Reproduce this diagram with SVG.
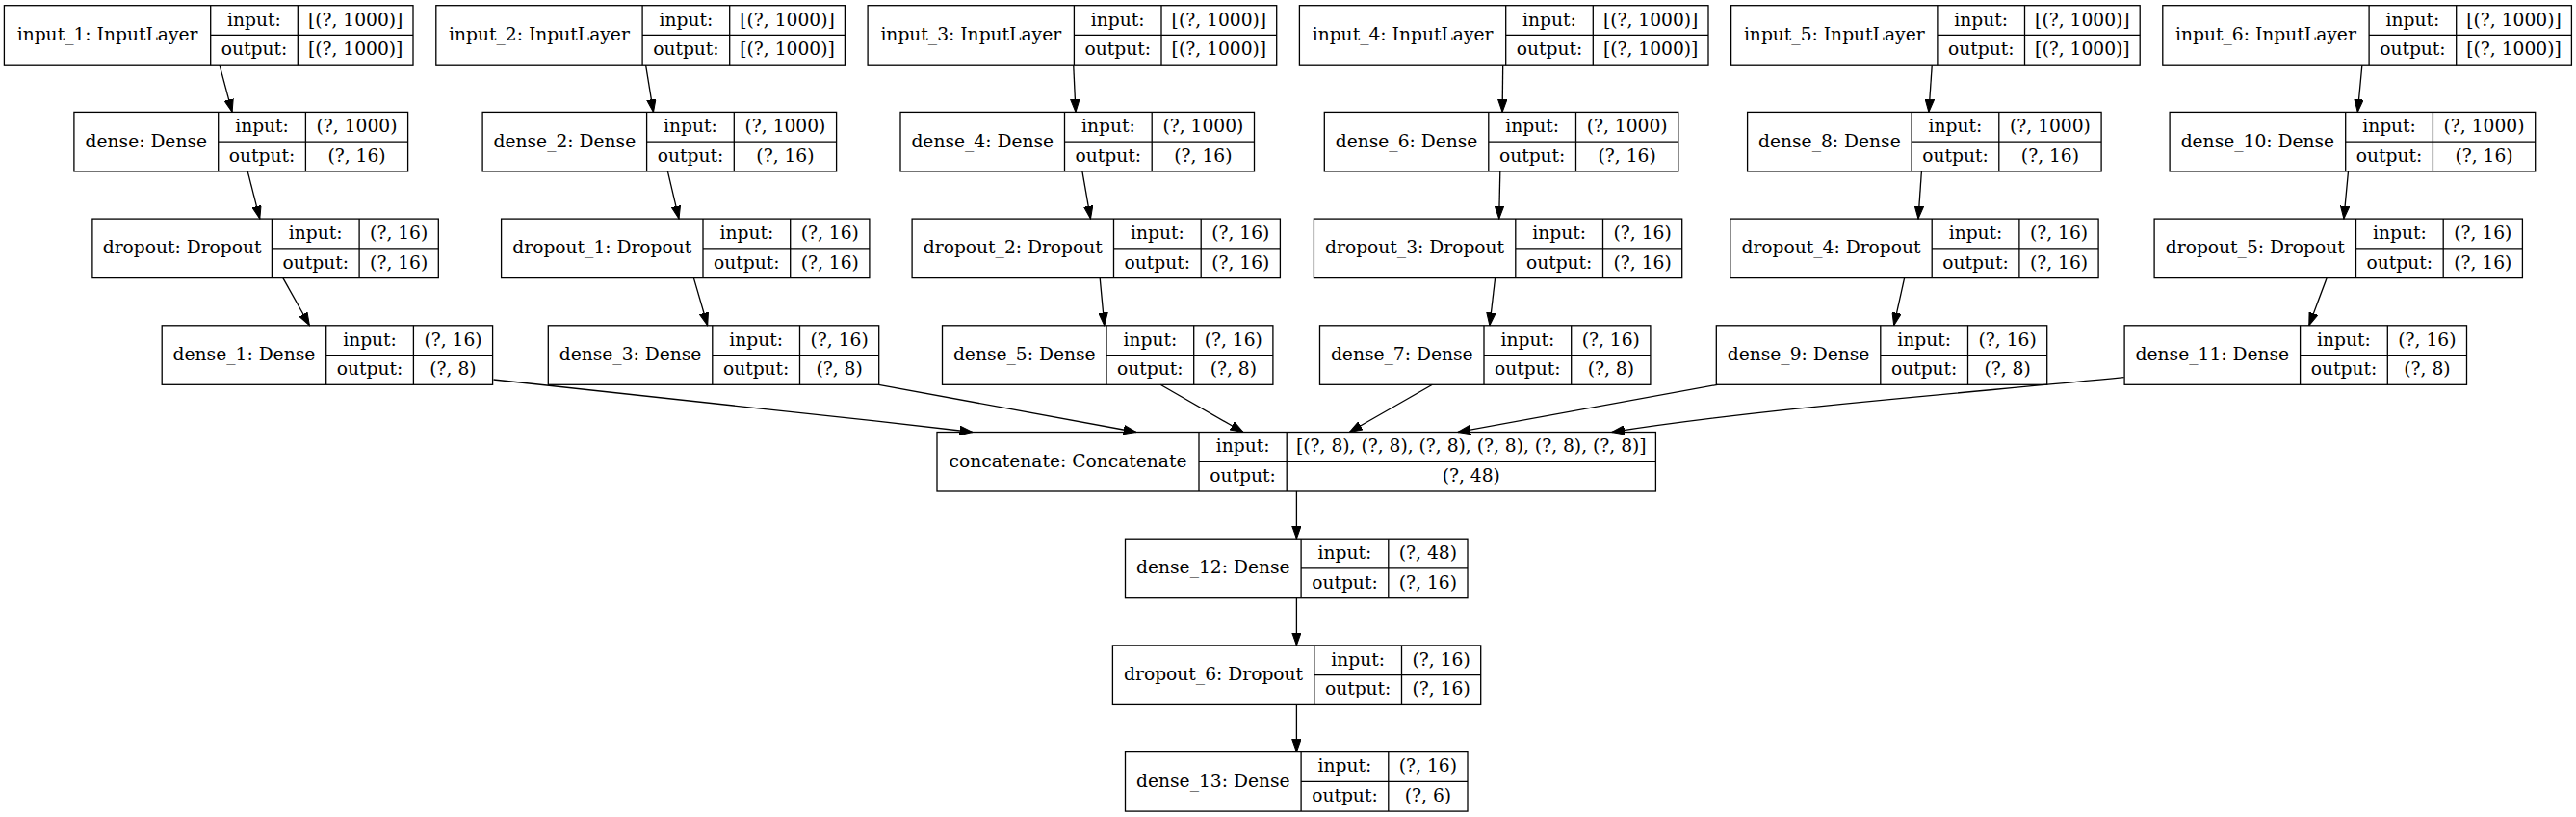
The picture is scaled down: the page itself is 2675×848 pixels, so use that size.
<svg xmlns="http://www.w3.org/2000/svg" width="2675" height="848" viewBox="0 0 2675 848">
<style>
.box{fill:#fff;stroke:#000;stroke-width:1.3}
.dv{fill:none;stroke:#000;stroke-width:1.3}
text{font-family:"DejaVu Serif","Liberation Serif",serif;font-size:18.67px;fill:#000;text-anchor:middle}
.edge{fill:none;stroke:#000;stroke-width:1.3;marker-end:url(#ah)}
</style>
<defs>
<marker id="ah" markerUnits="userSpaceOnUse" markerWidth="14" markerHeight="10" refX="13.3" refY="5" orient="auto"><path d="M0,0.3 L13.3,5 L0,9.7 z" fill="#000" stroke="#000" stroke-width="1"/></marker>
</defs>
<rect width="2675" height="848" fill="#fff"/>

<g id="input_1" transform="translate(4.4,5.7)"><rect class="box" width="424.6" height="61.5"/><path class="dv" d="M214.3,0V61.5M304.9,0V61.5M214.3,30.75H424.6"/><text x="107.15" y="36.25">input_1: InputLayer</text><text x="259.6" y="20.9">input:</text><text x="259.6" y="51.6">output:</text><text x="364.75" y="20.9">[(?, 1000)]</text><text x="364.75" y="51.6">[(?, 1000)]</text></g>
<g id="input_2" transform="translate(452.8,5.7)"><rect class="box" width="424.6" height="61.5"/><path class="dv" d="M214.3,0V61.5M304.9,0V61.5M214.3,30.75H424.6"/><text x="107.15" y="36.25">input_2: InputLayer</text><text x="259.6" y="20.9">input:</text><text x="259.6" y="51.6">output:</text><text x="364.75" y="20.9">[(?, 1000)]</text><text x="364.75" y="51.6">[(?, 1000)]</text></g>
<g id="input_3" transform="translate(901.1,5.7)"><rect class="box" width="424.6" height="61.5"/><path class="dv" d="M214.3,0V61.5M304.9,0V61.5M214.3,30.75H424.6"/><text x="107.15" y="36.25">input_3: InputLayer</text><text x="259.6" y="20.9">input:</text><text x="259.6" y="51.6">output:</text><text x="364.75" y="20.9">[(?, 1000)]</text><text x="364.75" y="51.6">[(?, 1000)]</text></g>
<g id="input_4" transform="translate(1349.4,5.7)"><rect class="box" width="424.6" height="61.5"/><path class="dv" d="M214.3,0V61.5M304.9,0V61.5M214.3,30.75H424.6"/><text x="107.15" y="36.25">input_4: InputLayer</text><text x="259.6" y="20.9">input:</text><text x="259.6" y="51.6">output:</text><text x="364.75" y="20.9">[(?, 1000)]</text><text x="364.75" y="51.6">[(?, 1000)]</text></g>
<g id="input_5" transform="translate(1797.6,5.7)"><rect class="box" width="424.6" height="61.5"/><path class="dv" d="M214.3,0V61.5M304.9,0V61.5M214.3,30.75H424.6"/><text x="107.15" y="36.25">input_5: InputLayer</text><text x="259.6" y="20.9">input:</text><text x="259.6" y="51.6">output:</text><text x="364.75" y="20.9">[(?, 1000)]</text><text x="364.75" y="51.6">[(?, 1000)]</text></g>
<g id="input_6" transform="translate(2245.8,5.7)"><rect class="box" width="424.6" height="61.5"/><path class="dv" d="M214.3,0V61.5M304.9,0V61.5M214.3,30.75H424.6"/><text x="107.15" y="36.25">input_6: InputLayer</text><text x="259.6" y="20.9">input:</text><text x="259.6" y="51.6">output:</text><text x="364.75" y="20.9">[(?, 1000)]</text><text x="364.75" y="51.6">[(?, 1000)]</text></g>

<g id="dense" transform="translate(76.9,116.4)"><rect class="box" width="346.7" height="61.5"/><path class="dv" d="M149.8,0V61.5M240.5,0V61.5M149.8,30.75H346.7"/><text x="74.9" y="36.25">dense: Dense</text><text x="195.15" y="20.9">input:</text><text x="195.15" y="51.6">output:</text><text x="293.6" y="20.9">(?, 1000)</text><text x="293.6" y="51.6">(?, 16)</text></g>
<g id="dense_2" transform="translate(501.1,116.4)"><rect class="box" width="367.5" height="61.5"/><path class="dv" d="M170.5,0V61.5M261.2,0V61.5M170.5,30.75H367.5"/><text x="85.25" y="36.25">dense_2: Dense</text><text x="215.85" y="20.9">input:</text><text x="215.85" y="51.6">output:</text><text x="314.35" y="20.9">(?, 1000)</text><text x="314.35" y="51.6">(?, 16)</text></g>
<g id="dense_4" transform="translate(935,116.4)"><rect class="box" width="367.5" height="61.5"/><path class="dv" d="M170.5,0V61.5M261.2,0V61.5M170.5,30.75H367.5"/><text x="85.25" y="36.25">dense_4: Dense</text><text x="215.85" y="20.9">input:</text><text x="215.85" y="51.6">output:</text><text x="314.35" y="20.9">(?, 1000)</text><text x="314.35" y="51.6">(?, 16)</text></g>
<g id="dense_6" transform="translate(1375.3,116.4)"><rect class="box" width="367.5" height="61.5"/><path class="dv" d="M170.5,0V61.5M261.2,0V61.5M170.5,30.75H367.5"/><text x="85.25" y="36.25">dense_6: Dense</text><text x="215.85" y="20.9">input:</text><text x="215.85" y="51.6">output:</text><text x="314.35" y="20.9">(?, 1000)</text><text x="314.35" y="51.6">(?, 16)</text></g>
<g id="dense_8" transform="translate(1814.6,116.4)"><rect class="box" width="367.5" height="61.5"/><path class="dv" d="M170.5,0V61.5M261.2,0V61.5M170.5,30.75H367.5"/><text x="85.25" y="36.25">dense_8: Dense</text><text x="215.85" y="20.9">input:</text><text x="215.85" y="51.6">output:</text><text x="314.35" y="20.9">(?, 1000)</text><text x="314.35" y="51.6">(?, 16)</text></g>
<g id="dense_10" transform="translate(2253.1,116.4)"><rect class="box" width="379.6" height="61.5"/><path class="dv" d="M182.6,0V61.5M273.3,0V61.5M182.6,30.75H379.6"/><text x="91.3" y="36.25">dense_10: Dense</text><text x="227.95" y="20.9">input:</text><text x="227.95" y="51.6">output:</text><text x="326.45" y="20.9">(?, 1000)</text><text x="326.45" y="51.6">(?, 16)</text></g>

<g id="dropout" transform="translate(95.9,227.1)"><rect class="box" width="359.4" height="61.5"/><path class="dv" d="M186.5,0V61.5M277.2,0V61.5M186.5,30.75H359.4"/><text x="93.25" y="36.25">dropout: Dropout</text><text x="231.85" y="20.9">input:</text><text x="231.85" y="51.6">output:</text><text x="318.3" y="20.9">(?, 16)</text><text x="318.3" y="51.6">(?, 16)</text></g>
<g id="dropout_1" transform="translate(520.6,227.1)"><rect class="box" width="382.3" height="61.5"/><path class="dv" d="M209.4,0V61.5M300.1,0V61.5M209.4,30.75H382.3"/><text x="104.7" y="36.25">dropout_1: Dropout</text><text x="254.75" y="20.9">input:</text><text x="254.75" y="51.6">output:</text><text x="341.2" y="20.9">(?, 16)</text><text x="341.2" y="51.6">(?, 16)</text></g>
<g id="dropout_2" transform="translate(947.1,227.1)"><rect class="box" width="382.3" height="61.5"/><path class="dv" d="M209.4,0V61.5M300.1,0V61.5M209.4,30.75H382.3"/><text x="104.7" y="36.25">dropout_2: Dropout</text><text x="254.75" y="20.9">input:</text><text x="254.75" y="51.6">output:</text><text x="341.2" y="20.9">(?, 16)</text><text x="341.2" y="51.6">(?, 16)</text></g>
<g id="dropout_3" transform="translate(1364.4,227.1)"><rect class="box" width="382.3" height="61.5"/><path class="dv" d="M209.4,0V61.5M300.1,0V61.5M209.4,30.75H382.3"/><text x="104.7" y="36.25">dropout_3: Dropout</text><text x="254.75" y="20.9">input:</text><text x="254.75" y="51.6">output:</text><text x="341.2" y="20.9">(?, 16)</text><text x="341.2" y="51.6">(?, 16)</text></g>
<g id="dropout_4" transform="translate(1796.8,227.1)"><rect class="box" width="382.3" height="61.5"/><path class="dv" d="M209.4,0V61.5M300.1,0V61.5M209.4,30.75H382.3"/><text x="104.7" y="36.25">dropout_4: Dropout</text><text x="254.75" y="20.9">input:</text><text x="254.75" y="51.6">output:</text><text x="341.2" y="20.9">(?, 16)</text><text x="341.2" y="51.6">(?, 16)</text></g>
<g id="dropout_5" transform="translate(2237.1,227.1)"><rect class="box" width="382.3" height="61.5"/><path class="dv" d="M209.4,0V61.5M300.1,0V61.5M209.4,30.75H382.3"/><text x="104.7" y="36.25">dropout_5: Dropout</text><text x="254.75" y="20.9">input:</text><text x="254.75" y="51.6">output:</text><text x="341.2" y="20.9">(?, 16)</text><text x="341.2" y="51.6">(?, 16)</text></g>

<g id="dense_1" transform="translate(168.2,337.8)"><rect class="box" width="343.4" height="61.5"/><path class="dv" d="M170.5,0V61.5M261.2,0V61.5M170.5,30.75H343.4"/><text x="85.25" y="36.25">dense_1: Dense</text><text x="215.85" y="20.9">input:</text><text x="215.85" y="51.6">output:</text><text x="302.3" y="20.9">(?, 16)</text><text x="302.3" y="51.6">(?, 8)</text></g>
<g id="dense_3" transform="translate(569.3,337.8)"><rect class="box" width="343.4" height="61.5"/><path class="dv" d="M170.5,0V61.5M261.2,0V61.5M170.5,30.75H343.4"/><text x="85.25" y="36.25">dense_3: Dense</text><text x="215.85" y="20.9">input:</text><text x="215.85" y="51.6">output:</text><text x="302.3" y="20.9">(?, 16)</text><text x="302.3" y="51.6">(?, 8)</text></g>
<g id="dense_5" transform="translate(978.5,337.8)"><rect class="box" width="343.4" height="61.5"/><path class="dv" d="M170.5,0V61.5M261.2,0V61.5M170.5,30.75H343.4"/><text x="85.25" y="36.25">dense_5: Dense</text><text x="215.85" y="20.9">input:</text><text x="215.85" y="51.6">output:</text><text x="302.3" y="20.9">(?, 16)</text><text x="302.3" y="51.6">(?, 8)</text></g>
<g id="dense_7" transform="translate(1370.5,337.8)"><rect class="box" width="343.4" height="61.5"/><path class="dv" d="M170.5,0V61.5M261.2,0V61.5M170.5,30.75H343.4"/><text x="85.25" y="36.25">dense_7: Dense</text><text x="215.85" y="20.9">input:</text><text x="215.85" y="51.6">output:</text><text x="302.3" y="20.9">(?, 16)</text><text x="302.3" y="51.6">(?, 8)</text></g>
<g id="dense_9" transform="translate(1782.3,337.8)"><rect class="box" width="343.4" height="61.5"/><path class="dv" d="M170.5,0V61.5M261.2,0V61.5M170.5,30.75H343.4"/><text x="85.25" y="36.25">dense_9: Dense</text><text x="215.85" y="20.9">input:</text><text x="215.85" y="51.6">output:</text><text x="302.3" y="20.9">(?, 16)</text><text x="302.3" y="51.6">(?, 8)</text></g>
<g id="dense_11" transform="translate(2206.1,337.8)"><rect class="box" width="355.4" height="61.5"/><path class="dv" d="M182.5,0V61.5M273.2,0V61.5M182.5,30.75H355.4"/><text x="91.25" y="36.25">dense_11: Dense</text><text x="227.85" y="20.9">input:</text><text x="227.85" y="51.6">output:</text><text x="314.3" y="20.9">(?, 16)</text><text x="314.3" y="51.6">(?, 8)</text></g>

<g id="concatenate" transform="translate(973,448.5)"><rect class="box" width="746.4" height="61.5"/><path class="dv" d="M272,0V61.5M363.2,0V61.5M272,30.75H746.4"/><text x="136" y="36.25">concatenate: Concatenate</text><text x="317.6" y="20.9">input:</text><text x="317.6" y="51.6">output:</text><text x="554.8" y="20.9">[(?, 8), (?, 8), (?, 8), (?, 8), (?, 8), (?, 8)]</text><text x="554.8" y="51.6">(?, 48)</text></g>

<g id="dense_12" transform="translate(1168.5,559.2)"><rect class="box" width="355.5" height="61.5"/><path class="dv" d="M182.6,0V61.5M273.3,0V61.5M182.6,30.75H355.5"/><text x="91.3" y="36.25">dense_12: Dense</text><text x="227.95" y="20.9">input:</text><text x="227.95" y="51.6">output:</text><text x="314.4" y="20.9">(?, 48)</text><text x="314.4" y="51.6">(?, 16)</text></g>
<g id="dropout_6" transform="translate(1155.4,669.9)"><rect class="box" width="382.3" height="61.5"/><path class="dv" d="M209.4,0V61.5M300.1,0V61.5M209.4,30.75H382.3"/><text x="104.7" y="36.25">dropout_6: Dropout</text><text x="254.75" y="20.9">input:</text><text x="254.75" y="51.6">output:</text><text x="341.2" y="20.9">(?, 16)</text><text x="341.2" y="51.6">(?, 16)</text></g>
<g id="dense_13" transform="translate(1168.5,780.6)"><rect class="box" width="355.5" height="61.5"/><path class="dv" d="M182.6,0V61.5M273.3,0V61.5M182.6,30.75H355.5"/><text x="91.3" y="36.25">dense_13: Dense</text><text x="227.95" y="20.9">input:</text><text x="227.95" y="51.6">output:</text><text x="314.4" y="20.9">(?, 16)</text><text x="314.4" y="51.6">(?, 6)</text></g>

<g id="connectors">
<path class="edge" d="M227.9,67.2L241.1,116.4"/>
<path class="edge" d="M670.5,67.2L678.5,116.4"/>
<path class="edge" d="M1114.7,67.2L1117,116.4"/>
<path class="edge" d="M1560.7,67.2L1560.1,116.4"/>
<path class="edge" d="M2006.3,67.2L2002.9,116.4"/>
<path class="edge" d="M2452.9,67.2L2448.3,116.4"/>
<path class="edge" d="M257.2,177.9L269.8,227.1"/>
<path class="edge" d="M693.4,177.9L705,227.1"/>
<path class="edge" d="M1123.9,177.9L1132.5,227.1"/>
<path class="edge" d="M1557.8,177.9L1556.7,227.1"/>
<path class="edge" d="M1995.4,177.9L1992,227.1"/>
<path class="edge" d="M2438.5,177.9L2433.9,227.1"/>
<path class="edge" d="M293.9,288.6L321.4,337.8"/>
<path class="edge" d="M720.4,288.6L734.7,337.8"/>
<path class="edge" d="M1142.2,288.6L1146.8,337.8"/>
<path class="edge" d="M1552.6,288.6L1546.9,337.8"/>
<path class="edge" d="M1977.6,288.6L1966.7,337.8"/>
<path class="edge" d="M2416.2,288.6L2397.8,337.8"/>
<path class="edge" d="M512.5,394C700,414 850,430 1010,448.5"/>
<path class="edge" d="M912.4,399.3L1180,448.5"/>
<path class="edge" d="M1205,399.3L1291,448.5"/>
<path class="edge" d="M1487.4,399.3L1401.3,448.5"/>
<path class="edge" d="M1783.5,399.3L1513.8,448.5"/>
<path class="edge" d="M2205.6,391.7C2030,409 1830,424 1673.7,448.5"/>
<path class="edge" d="M1346.4,509.9L1346.4,559.2"/>
<path class="edge" d="M1346.4,620.6L1346.4,669.9"/>
<path class="edge" d="M1346.4,731.3L1346.4,780.6"/>
</g>
</svg>
